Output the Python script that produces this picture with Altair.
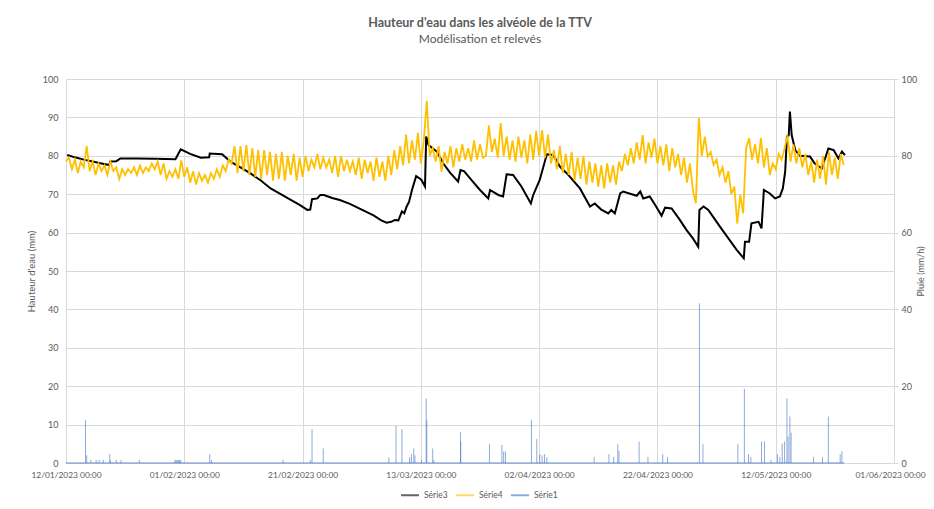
import altair as alt
import pandas as pd

# ---------------- data ----------------
START = "2023-01-12"

# Série3 (black, model) : (day offset from 12/01/2023, water height mm)
S3_DAYS = [0.2, 1.5, 3.0, 4.5, 6.0, 7.3, 7.5, 8.5, 9.2, 12.0, 15.0, 18.5, 19.4, 21.0, 22.8, 24.2, 24.3,
           26.4, 27.8, 29.5, 31.2, 33.0, 34.6, 36.3, 38.0, 39.5, 40.8, 41.3, 41.6, 42.5, 43.0, 43.6,
           45.0, 46.3, 48.0, 50.0, 52.0, 53.3, 54.2, 55.0, 55.6, 56.2, 56.8, 57.2, 57.6, 58.0, 58.5,
           59.2, 59.7, 60.1, 60.7, 60.9, 61.3, 62.7, 63.8, 65.0, 66.3, 66.7, 67.3, 68.5, 70.0, 71.4,
           71.7, 73.1, 73.9, 74.5, 75.6, 77.0, 78.6, 79.0, 80.1, 81.3, 82.4, 83.5, 84.7, 86.9, 88.6,
           89.4, 90.5, 91.7, 92.2, 92.8, 93.7, 94.2, 96.5, 97.1, 97.6, 98.7, 99.7, 100.7, 101.3, 102.4,
           103.7, 104.9, 106.0, 106.9, 107.1, 107.8, 108.6, 109.6, 110.6, 112.0, 113.4, 114.6, 114.8,
           115.5, 115.9, 117.1, 117.6, 118.0, 119.0, 119.9, 120.7, 121.2, 121.6, 121.9, 122.2, 122.4,
           122.7, 123.3, 124.1, 125.8, 126.6, 127.8, 128.9, 129.8, 130.6, 131.2, 131.7]
S3_VALUES = [80.2, 79.6, 79.0, 78.5, 78.0, 77.6, 78.5, 78.6, 79.3, 79.3, 79.2, 79.1, 81.7, 80.5, 79.5, 79.6, 80.6,
             80.4, 78.5, 77.0, 75.4, 73.5, 71.5, 70.0, 68.5, 67.2, 65.9, 66.0, 68.7, 68.9, 69.8, 69.8,
             69.0, 68.5, 67.5, 66.0, 64.5, 63.2, 62.6, 62.8, 63.3, 63.2, 65.5, 65.0, 66.8, 68.0, 71.1,
             74.7, 74.2, 73.7, 72.0, 85.0, 82.8, 81.1, 78.0, 75.5, 73.3, 76.3, 76.0, 73.8, 71.1, 68.9,
             71.1, 69.8, 69.4, 75.2, 75.0, 72.0, 67.6, 69.8, 73.7, 80.4, 80.2, 77.2, 75.4, 71.5, 66.8,
             67.6, 66.0, 65.0, 65.9, 65.0, 70.2, 70.7, 69.6, 70.7, 68.9, 69.4, 67.0, 64.4, 66.5, 66.3,
             63.5, 60.7, 58.5, 56.3, 65.9, 66.8, 65.9, 63.7, 61.5, 58.5, 55.5, 53.3, 57.6,
             57.6, 62.4, 62.8, 61.1, 71.1, 70.2, 68.9, 69.4, 71.5, 75.9, 85.0, 85.3, 91.5,
             85.4, 81.5, 80.0, 79.8, 78.0, 76.7, 81.9, 81.5, 79.3, 81.1, 80.2]

# Série4 (yellow, measured) : one reading every half day from 12/01/2023
S4_STEP_DAYS = 0.5
S4_VALUES = [
    78.5, 79.5, 76.5, 79, 75.5, 78.5, 77, 82.5, 76, 78.5, 75, 78, 76, 77.5, 75, 78.5,
    76, 77, 74, 76.5, 75, 76.5, 75.5, 77, 75, 77.5, 75.5, 77, 76, 78, 76.5, 78.5,
    75, 78, 74, 76, 74.5, 76.5, 74, 78.8, 74.5, 77, 73, 76, 72.5, 75.5, 73.5, 75,
    73, 75.5, 74, 76.5, 74.5, 77.5, 76, 79, 78, 82.5, 75.5, 82.5, 76, 82.8, 75, 82,
    74.5, 81.5, 74, 81.5, 75, 81, 73.5, 80.5, 74, 81, 73.5, 80, 75, 80.5, 73.5, 79.5,
    74.5, 80, 76, 79, 77, 80.5, 76.5, 79.5, 77, 79, 75.5, 80, 74.5, 80, 76, 79,
    76, 78.5, 75, 79.5, 74, 79, 75.5, 78.5, 73.5, 79.5, 74.5, 78.5, 73.5, 80, 75, 81.5,
    76.5, 82.5, 77.5, 85.5, 78, 84, 79, 86, 78, 84, 94.3, 80, 82, 78.5, 82.5, 75.8,
    81, 78, 82.5, 77, 82, 78.5, 83, 79, 82, 78.5, 84, 79, 83, 79.5, 80, 87.9,
    81, 84.5, 79.5, 88.5, 80, 85, 79, 84, 78.5, 85, 79.5, 84, 78, 85.5, 79, 86.5,
    80, 86.7, 79.5, 85.5, 78, 81.5, 76.5, 82.5, 75.5, 80.5, 75, 81, 73.5, 79.5, 74, 80,
    72.5, 78.5, 73, 78, 72, 77.5, 71.5, 78, 73, 77.5, 72.5, 78.5, 76, 80.5, 77.5, 82,
    78, 83.5, 79, 85.4, 78, 83.5, 79.5, 84.5, 78, 82.5, 77.5, 83, 76, 82, 77, 80.5,
    75, 79.5, 73, 78, 71, 67.6, 89.9, 80, 85, 79.8, 81, 77.6, 79, 75, 77, 73,
    76, 70, 72, 62.3, 69.8, 65, 82, 84.6, 79, 83, 78, 84.6, 77, 82, 75, 78,
    76.5, 80.5, 79, 82, 85.3, 78.5, 83, 78, 82, 77, 80.5, 75, 78.5, 73, 79, 74,
    80, 72.5, 81, 75, 79.5, 74, 80.5, 77.6]

# Série1 (blue, rain mm/h) : (day offset, intensity)
S1_DAYS = [3.3, 3.5, 4.2, 5.1, 5.6, 6.3, 7.4, 7.5, 8.5, 9.3, 12.4, 18.4, 18.6, 18.8, 19.0, 19.2, 19.4,
           24.3, 24.6, 36.7, 41.3, 41.6, 43.5, 54.6, 55.8, 56.8, 58.1, 58.4, 58.8, 59.0, 60.1, 60.9,
           61.0, 62.0, 62.2, 66.7, 66.75, 71.6, 73.7, 74.0, 74.3, 78.7, 79.6, 80.1, 80.5, 80.9, 81.3,
           89.3, 91.8, 92.6, 93.3, 93.5, 96.9, 98.4, 100.9, 101.7, 107.1, 107.7, 113.6, 114.7, 115.4,
           115.8, 117.6, 118.1, 119.2, 120.3, 120.7, 121.1, 121.5, 121.9, 122.1, 122.4, 122.6, 126.4,
           127.9, 128.9, 130.9, 131.2]
S1_VALUES = [11.2, 2.0, 0.8, 0.8, 0.8, 0.8, 2.3, 0.8, 0.8, 0.8, 0.8, 0.8, 0.8, 0.8, 0.8, 0.8, 0.8,
             2.3, 0.8, 0.8, 0.8, 8.8, 3.8, 1.5, 9.6, 8.8, 1.5, 2.3, 3.8, 2.0, 0.8, 16.8,
             11.2, 3.8, 0.8, 8.0, 5.6, 4.9, 4.7, 3.0, 3.0, 11.2, 6.25, 2.3, 2.0, 2.3, 1.5,
             1.6, 2.3, 1.6, 4.9, 3.1, 5.6, 1.6, 2.3, 1.6, 41.6, 4.9, 4.9, 19.3, 2.3,
             1.6, 5.6, 5.6, 0.8, 2.3, 1.6, 5.1, 5.6, 16.8, 6.9, 12.1, 7.9, 1.6,
             1.6, 12.1, 2.3, 3.1]
S1_SPAN_DAYS = [0.0, 131.6]   # extent of the rain record (zero baseline)

SERIES = ["Série3", "Série4", "Série1"]
COLORS = ["#000000", "#FFC000", "#4472C4"]
TICK_DATES = ["2023-01-12", "2023-02-01", "2023-02-21", "2023-03-13",
              "2023-04-02", "2023-04-22", "2023-05-12", "2023-06-01"]

# ---------------- frames ----------------
t0 = pd.Timestamp(START)
def to_time(days):
    return [t0 + pd.Timedelta(days=float(d)) for d in days]

df3 = pd.DataFrame({"t": to_time(S3_DAYS), "v": S3_VALUES, "series": "Série3"})
s4_days = [i * S4_STEP_DAYS for i in range(len(S4_VALUES))]
df4 = pd.DataFrame({"t": to_time(s4_days), "v": S4_VALUES, "series": "Série4"})
df1 = pd.DataFrame({"t": to_time(S1_DAYS), "rain": S1_VALUES, "series": "Série1"})
span = to_time(S1_SPAN_DAYS)
dfbase = pd.DataFrame({"t": [span[0]], "t2": [span[1]]})

def dt(s):
    p = pd.Timestamp(s)
    return alt.DateTime(year=p.year, month=p.month, date=p.day)

FONT = "Lato"
GREY = "#595959"
LINE_GREY = "#d9d9d9"

x_enc = alt.X(
    "t:T",
    scale=alt.Scale(domain=[dt(TICK_DATES[0]), dt(TICK_DATES[-1])]),
    axis=alt.Axis(values=[dt(s) for s in TICK_DATES], format="%d/%m/%Y %H:%M",
                  title=None, grid=True, ticks=False, labelPadding=7, labelFlush=False,
                  labelOverlap=False, labelFontSize=8.4,
                  labelOffset={"condition": {"test": "datum.index >= 0.99", "value": -4},
                               "value": 0}),
)

color_enc = alt.Color(
    "series:N",
    scale=alt.Scale(domain=SERIES, range=COLORS),
    title=None,
    legend=alt.Legend(orient="none", legendX=334, legendY=406, direction="horizontal",
                      symbolType="stroke", symbolSize=324, symbolStrokeWidth=2,
                      labelFontSize=8.5, labelColor=GREY, labelFont=FONT,
                      columnPadding=4, labelOffset=4),
)

left_axis = alt.Axis(values=list(range(0, 101, 10)), title="Hauteur d'eau (mm)", grid=True,
                     ticks=False, domain=False, labelPadding=8, titlePadding=6)
y_left = alt.Y("v:Q", scale=alt.Scale(domain=[0, 100]), axis=left_axis)

black = alt.Chart(df3).mark_line(strokeWidth=2).encode(x=x_enc, y=y_left, color=color_enc)
yellow = alt.Chart(df4).mark_line(strokeWidth=1.8).encode(x=x_enc, y=y_left, color=color_enc)

left = alt.layer(black, yellow)

right_axis = alt.Axis(values=list(range(0, 101, 10)), title="Pluie (mm/h)", orient="right",
                      grid=False, ticks=True, tickSize=4, domain=True, labelPadding=3,
                      titleAngle=270, titleX=26, titleY=192, titleBaseline="middle",
                      titleAlign="center", titleFontSize=9)
y_right = alt.Y("rain:Q", scale=alt.Scale(domain=[0, 100]), axis=right_axis)

rain = alt.Chart(df1).mark_rule(strokeWidth=1, opacity=0.6).encode(
    x=x_enc, y=y_right, y2=alt.datum(0), color=color_enc)
base = alt.Chart(dfbase).mark_rule(strokeWidth=1, color="#4472C4", opacity=0.8).encode(
    x="t:T", x2="t2:T", y=alt.datum(0))
right = alt.layer(rain, base)

chart = (
    alt.layer(left, right)
    .resolve_scale(y="independent")
    .properties(
        width=828, height=384,
        autosize=alt.AutoSizeParams(type="none"),
        padding={"left": 58, "top": 71, "right": 32, "bottom": 38},
        title=alt.TitleParams(
            text="Hauteur d'eau dans les alvéole de la TTV",
            subtitle="Modélisation et relevés",
            font=FONT, fontSize=12.5, fontWeight="bold", color=GREY,
            subtitleFont=FONT, subtitleFontSize=12, subtitleColor=GREY,
            subtitlePadding=5, anchor="middle", offset=30,
        ),
    )
    .configure_view(stroke="transparent")
    .configure_axis(
        labelFont=FONT, labelFontSize=9, labelColor=GREY,
        titleFont=FONT, titleFontSize=9.5, titleColor=GREY, titleFontWeight="normal",
        gridColor=LINE_GREY, domainColor=LINE_GREY, tickColor=LINE_GREY,
    )
)

chart.save("out.html", embed_options={"renderer": "svg", "actions": False})
